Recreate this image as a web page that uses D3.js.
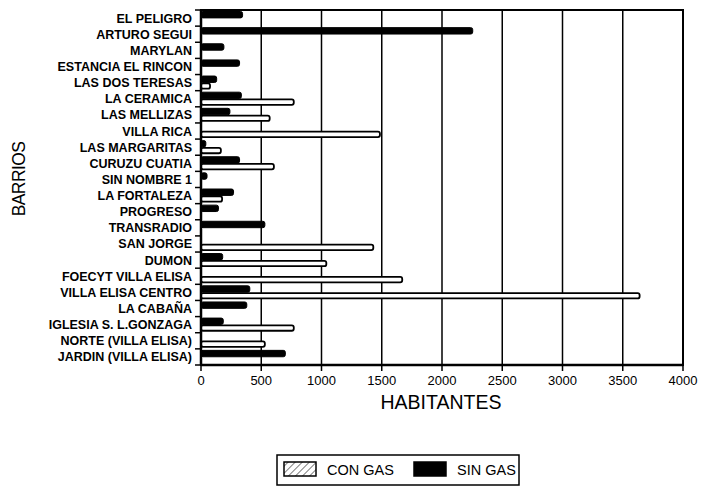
<!DOCTYPE html>
<html><head><meta charset="utf-8">
<script src="https://cdn.jsdelivr.net/npm/d3@7"></script>
<style>body{margin:0;background:#fff}svg{display:block}</style>
</head><body>
<svg id="c" width="704" height="497"></svg>
<script>
const categories = ["EL PELIGRO","ARTURO SEGUI","MARYLAN","ESTANCIA EL RINCON","LAS DOS TERESAS","LA CERAMICA","LAS MELLIZAS","VILLA RICA","LAS MARGARITAS","CURUZU CUATIA","SIN NOMBRE  1","LA FORTALEZA","PROGRESO","TRANSRADIO","SAN JORGE","DUMON","FOECYT VILLA ELISA","VILLA ELISA CENTRO","LA CABAÑA","IGLESIA S. L.GONZAGA","NORTE (VILLA ELISA)","JARDIN (VILLA ELISA)"];
const sinGas = [345,2255,190,320,130,335,240,0,40,320,50,270,145,530,0,180,0,405,380,185,0,700];
const conGas = [0,0,0,0,75,770,570,1485,165,605,0,175,0,0,1430,1040,1670,3640,0,770,530,0];
const xTicks = [0,500,1000,1500,2000,2500,3000,3500,4000];
const seriesNames = ["SIN GAS","CON GAS"];
const legendLabels = ["CON GAS","SIN GAS"];

const svg = d3.select("#c");
const m = {l:201, r:683, t:10, b:365};
const x = d3.scaleLinear().domain([0,4000]).range([m.l, m.r]);
const y = d3.scaleBand().domain(categories).range([m.t, m.b]);
const ys = d3.scaleBand().domain(seriesNames).range([1.5, y.bandwidth()-1.5]).paddingInner(0.05);

const defs = svg.append("defs");
const pat = defs.append("pattern").attr("id","hatch").attr("patternUnits","userSpaceOnUse")
  .attr("width",5).attr("height",5).attr("patternTransform","rotate(45)");
pat.append("rect").attr("width",5).attr("height",5).attr("fill","#fff");
pat.append("line").attr("x1",0).attr("y1",0).attr("x2",0).attr("y2",5).attr("stroke","#000").attr("stroke-width",1);

// frame
svg.append("rect").attr("x",m.l).attr("y",m.t).attr("width",m.r-m.l).attr("height",m.b-m.t)
  .attr("fill","none").attr("stroke","#000").attr("stroke-width",2);
// grid
svg.append("g").selectAll("line").data(xTicks.slice(1,-1)).join("line")
  .attr("x1",d=>x(d)).attr("x2",d=>x(d)).attr("y1",m.t).attr("y2",m.b)
  .attr("stroke","#000").attr("stroke-width",1.5);

// bars
const g = svg.append("g");
categories.forEach((c,i)=>{
  if (sinGas[i]>0) g.append("rect").attr("x",x(0)).attr("y",y(c)+ys("SIN GAS"))
    .attr("width",x(sinGas[i])-x(0)).attr("height",ys.bandwidth()).attr("rx",2)
    .attr("fill","#000").attr("stroke","#000").attr("stroke-width",1);
  if (conGas[i]>0) g.append("rect").attr("x",x(0)).attr("y",y(c)+ys("CON GAS")+0.5)
    .attr("width",x(conGas[i])-x(0)).attr("height",ys.bandwidth()-1).attr("rx",2)
    .attr("fill","#fff").attr("stroke","#000").attr("stroke-width",1.8);
});

// y axis
const ya = svg.append("g");
ya.append("line").attr("x1",m.l).attr("x2",m.l).attr("y1",m.t).attr("y2",m.b).attr("stroke","#000").attr("stroke-width",2.5);
const bounds = categories.map(c=>y(c)).concat([m.b]);
ya.selectAll("line.t").data(bounds).join("line").attr("class","t")
  .attr("x1",m.l-6).attr("x2",m.l).attr("y1",d=>d).attr("y2",d=>d).attr("stroke","#000").attr("stroke-width",1.5);
ya.selectAll("text").data(categories).join("text")
  .attr("x",m.l-9).attr("y",d=>y(d)+y.bandwidth()/2).attr("dy","0.36em")
  .attr("text-anchor","end").attr("font-family","'Liberation Sans Narrow','Liberation Sans',sans-serif")
  .attr("font-weight","bold").attr("font-size",12.5).text(d=>d);

// x axis
const xa = svg.append("g").attr("transform",`translate(0,${m.b})`);
xa.append("line").attr("x1",m.l).attr("x2",m.r).attr("stroke","#000").attr("stroke-width",2.5);
xa.selectAll("line.t").data(xTicks).join("line").attr("class","t")
  .attr("x1",d=>x(d)).attr("x2",d=>x(d)).attr("y1",0).attr("y2",6).attr("stroke","#000").attr("stroke-width",1.5);
xa.selectAll("text").data(xTicks).join("text")
  .attr("x",d=>x(d)).attr("y",20).attr("text-anchor","middle")
  .attr("font-family","'Liberation Sans',Arial,sans-serif").attr("font-size",13).text(d=>d);

// titles
svg.append("text").attr("x",441).attr("y",409).attr("text-anchor","middle")
  .attr("font-family","'Liberation Sans',Arial,sans-serif").attr("font-size",19.5).text("HABITANTES");
svg.append("text").attr("transform","translate(25,179) rotate(-90)").attr("text-anchor","middle")
  .attr("font-family","'Liberation Sans',Arial,sans-serif").attr("font-size",17.5).attr("letter-spacing","-0.6").text("BARRIOS");

// legend
const lg = svg.append("g");
lg.append("rect").attr("x",277).attr("y",455).attr("width",242).attr("height",30)
  .attr("fill","#fff").attr("stroke","#000").attr("stroke-width",1.5);
const items = [{name:legendLabels[0],fill:"url(#hatch)",x:284,tx:327},{name:legendLabels[1],fill:"#000",x:414,tx:457}];
items.forEach(it=>{
  lg.append("rect").attr("x",it.x).attr("y",462).attr("width",32).attr("height",14)
    .attr("fill",it.fill).attr("stroke","#000").attr("stroke-width",1.5);
  lg.append("text").attr("x",it.tx).attr("y",475).attr("font-family","'Liberation Sans',Arial,sans-serif")
    .attr("font-size",14.5).text(it.name);
});
</script>
</body></html>
